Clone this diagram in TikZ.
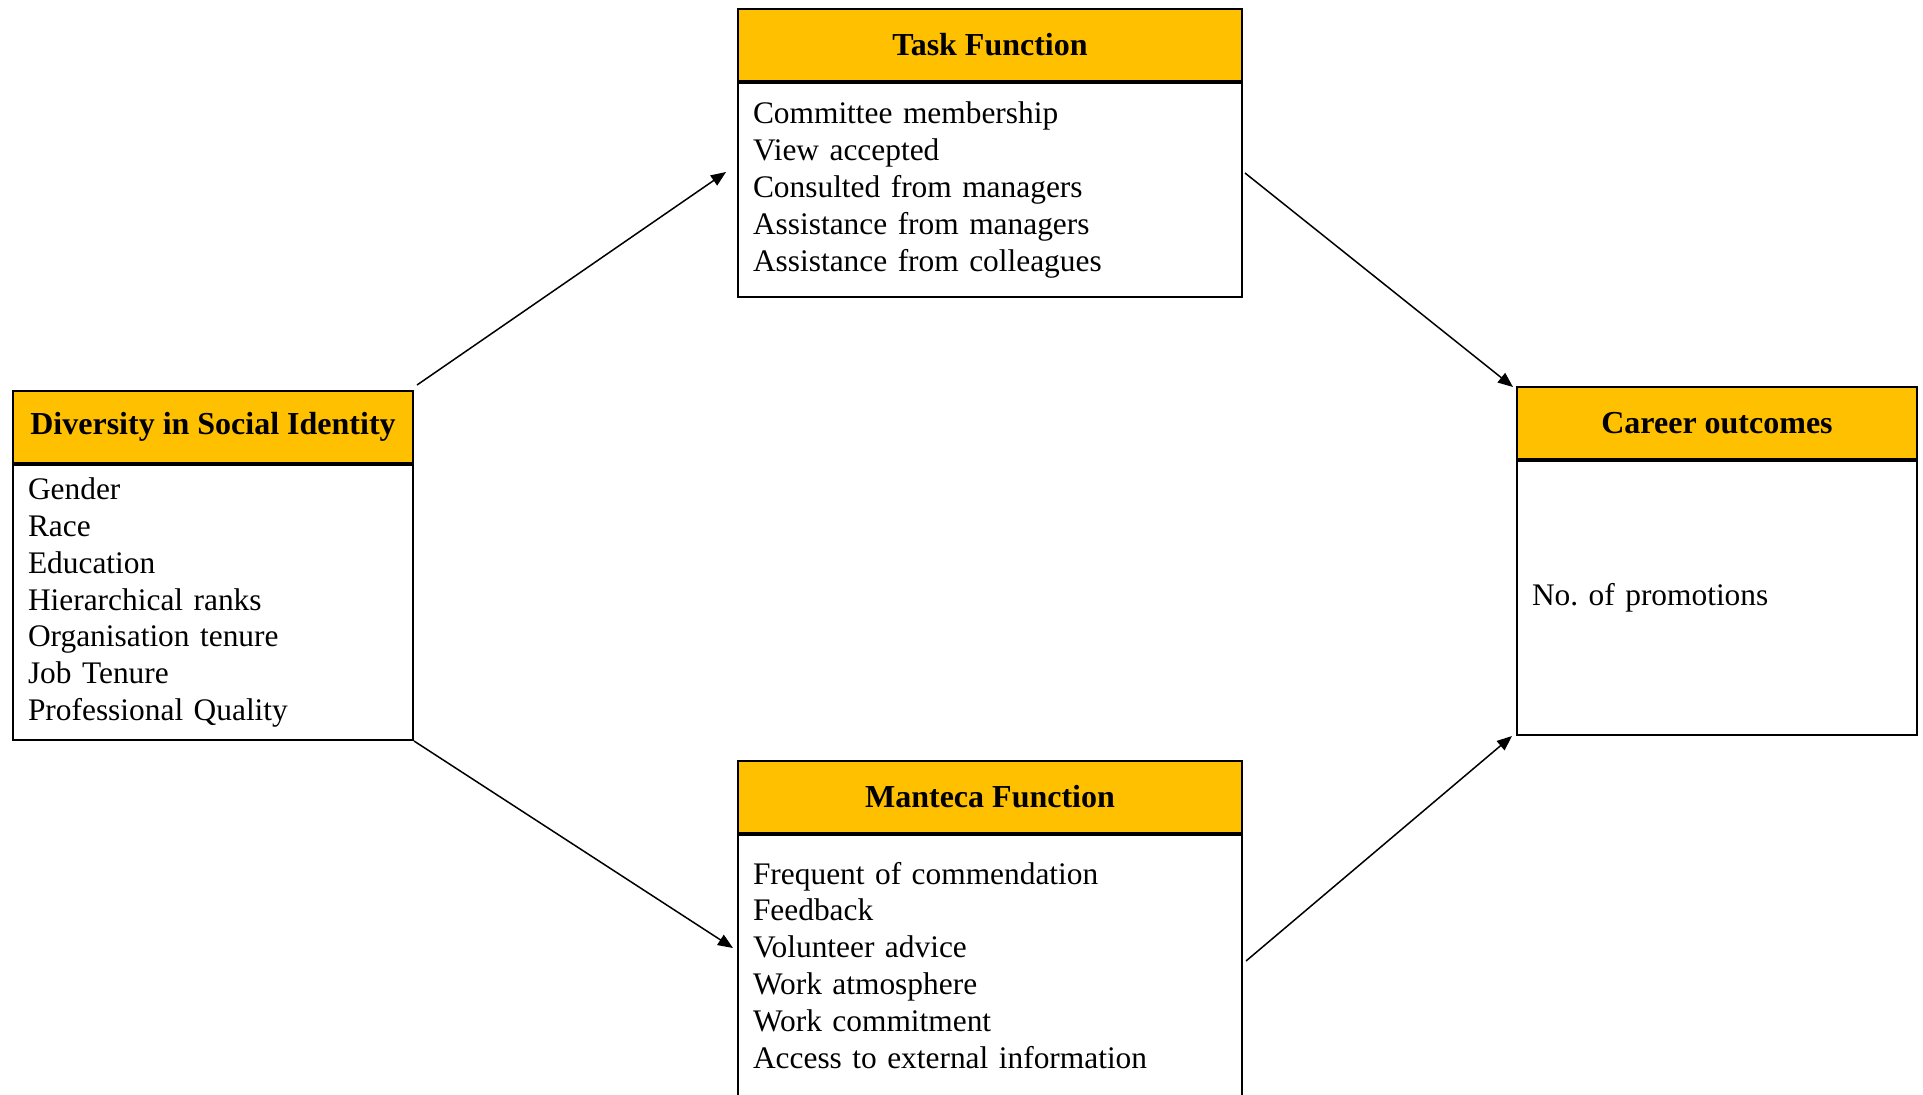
\documentclass[tikz,border=0pt]{standalone}
\usepackage{fontspec}
\setmainfont{Liberation Serif}
\usetikzlibrary{positioning, calc, arrows.meta}
\definecolor{gold}{RGB}{255,192,0}

\begin{document}
\begin{tikzpicture}[x=0.5pt, y=-0.5pt, >={Triangle[length=7.5pt, width=6pt]},
  font=\fontsize{15.7}{18.4}\selectfont,
  head/.style={draw, line width=1pt, fill=gold, font=\fontsize{16}{18.4}\selectfont\bfseries,
    minimum height=36pt, inner sep=0pt, anchor=north west},
  body/.style={draw, line width=1pt, align=left, inner xsep=7.5pt, inner ysep=0pt,
    anchor=north},
  link/.style={->, line width=0.75pt}]
  \useasboundingbox (0,0) rectangle (1923,1094);
  % social identity
  \node[head, minimum width=200pt] (divhead) at (12,390) {Diversity in Social Identity};
  \node[body, text width=185pt, minimum height=137.5pt] (divbody) at (divhead.south)
    {Gender\\ Race\\ Education\\ Hierarchical ranks\\ Organisation tenure\\ Job Tenure\\ Professional Quality};
  % task function
  \node[head, minimum width=252pt] (taskhead) at (737,8) {Task Function};
  \node[body, text width=237pt, minimum height=107pt] (taskbody) at (taskhead.south)
    {Committee membership\\ View accepted\\ Consulted from managers\\ Assistance from managers\\ Assistance from colleagues};
  % manteca function (runs off the bottom edge)
  \node[head, minimum width=252pt] (manthead) at (737,760) {Manteca Function};
  \node[body, text width=237pt, minimum height=142pt] (mantbody) at (manthead.south)
    {Frequent of commendation\\ Feedback\\ Volunteer advice\\ Work atmosphere\\ Work commitment\\ Access to external information\rule[-12pt]{0pt}{0pt}};
  % career outcomes
  \node[head, minimum width=200pt] (carhead) at (1516,386) {Career outcomes};
  \node[body, text width=185pt, minimum height=137pt] (carbody) at (carhead.south)
    {No.\ of promotions};
  % arrows
  \draw[link] ($(divhead.north east)+(3,-5)$) -- ($(taskbody.west)+(-11,-18)$);
  \draw[link] (divbody.south east) -- ($(mantbody.north west)+(-4,114)$);
  \draw[link] ($(taskbody.east)+(2,-17)$) -- ($(carhead.north west)+(-3,1)$);
  \draw[link] ($(mantbody.north east)+(3,127)$) -- ($(carbody.south west)+(-4,0)$);
\end{tikzpicture}
\end{document}
